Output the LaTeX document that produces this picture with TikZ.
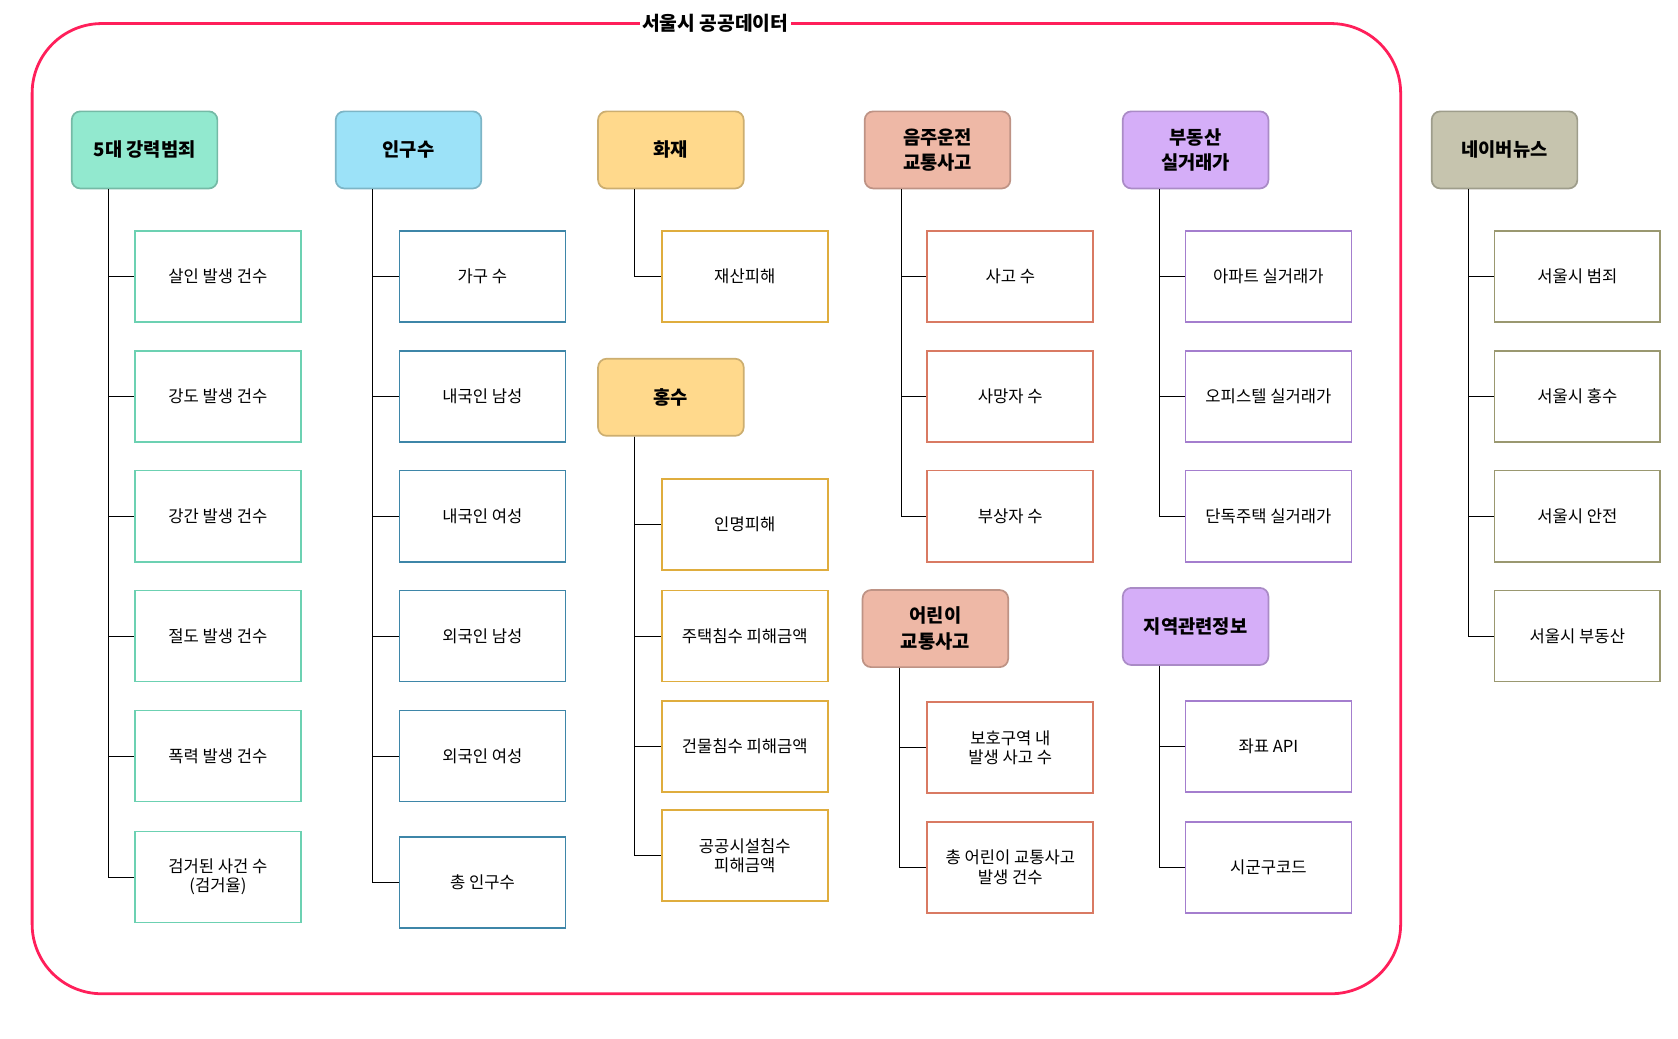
\documentclass[tikz,border=0pt]{standalone}
\usepackage{fontspec}
\setmainfont{Noto Sans CJK KR}
\begin{document}
\begin{tikzpicture}[x=1pt,y=-1pt,
  hdr/.style={draw=#1!80!black, fill=#1, line width=1.6pt, rounded corners=8pt,
    minimum width=136pt, minimum height=72pt, inner sep=0pt, align=center,
    font=\fontsize{17.5}{24}\selectfont\bfseries},
  leaf/.style={draw=#1, fill=white, line width=1.6pt,
    minimum width=155pt, minimum height=85pt, inner sep=0pt, align=center,
    font=\fontsize{15.5}{18}\selectfont},
  conn/.style={draw=black, line width=0.9pt}]
\definecolor{mintF}{HTML}{92E9CF}\definecolor{mintS}{HTML}{6CD1B2}
\definecolor{blueF}{HTML}{9CE2F8}\definecolor{blueS}{HTML}{3E86A8}
\definecolor{yelF}{HTML}{FFD98C}\definecolor{yelS}{HTML}{DFAD3E}
\definecolor{salF}{HTML}{EEB8A6}\definecolor{salS}{HTML}{D97A63}
\definecolor{purF}{HTML}{D5AEF8}\definecolor{purS}{HTML}{A47ECE}
\definecolor{olvF}{HTML}{C6C4AE}\definecolor{olvS}{HTML}{9A9870}
\definecolor{frameC}{HTML}{FF1F5A}
\useasboundingbox (0,0) rectangle (1567,970);
% frame
\draw[frameC, line width=2.6pt, rounded corners=65pt] (30,22) rectangle (1308,928);
\node[fill=white, inner sep=2pt, font=\fontsize{18}{22}\selectfont\bfseries] (title) at (668,22) {서울시 공공데이터};
% headers
\node[hdr=mintF] (h1) at (135,140) {5대 강력범죄};
\node[hdr=blueF] (h2) at (381.5,140) {인구수};
\node[hdr=yelF] (h3) at (626.5,140) {화재};
\node[hdr=salF] (h4) at (875.5,140) {음주운전\\교통사고};
\node[hdr=purF] (h5) at (1116.5,140) {부동산\\실거래가};
\node[hdr=olvF] (h6) at (1405,140) {네이버뉴스};
\node[hdr=yelF] (h7) at (626.5,371) {홍수};
\node[hdr=salF] (h8) at (873.5,587) {어린이\\교통사고};
\node[hdr=purF] (h9) at (1116.5,585) {지역관련정보};
% column 1
\node[leaf=mintS] (a1) at (203.5,258) {살인 발생 건수};
\node[leaf=mintS] (a2) at (203.5,370) {강도 발생 건수};
\node[leaf=mintS] (a3) at (203.5,482) {강간 발생 건수};
\node[leaf=mintS] (a4) at (203.5,594) {절도 발생 건수};
\node[leaf=mintS] (a5) at (203.5,706) {폭력 발생 건수};
\node[leaf=mintS] (a6) at (203.5,819) {검거된 사건 수\\(검거율)};
% column 2
\node[leaf=blueS] (b1) at (450.5,258) {가구 수};
\node[leaf=blueS] (b2) at (450.5,370) {내국인 남성};
\node[leaf=blueS] (b3) at (450.5,482) {내국인 여성};
\node[leaf=blueS] (b4) at (450.5,594) {외국인 남성};
\node[leaf=blueS] (b5) at (450.5,706) {외국인 여성};
\node[leaf=blueS] (b6) at (450.5,824) {총 인구수};
% column 3
\node[leaf=yelS] (c1) at (695.5,258) {재산피해};
\node[leaf=yelS] (d1) at (695.5,490) {인명피해};
\node[leaf=yelS] (d2) at (695.5,594) {주택침수 피해금액};
\node[leaf=yelS] (d3) at (695.5,697) {건물침수 피해금액};
\node[leaf=yelS] (d4) at (695.5,799) {공공시설침수\\피해금액};
% column 4
\node[leaf=salS] (e1) at (943.5,258) {사고 수};
\node[leaf=salS] (e2) at (943.5,370) {사망자 수};
\node[leaf=salS] (e3) at (943.5,482) {부상자 수};
\node[leaf=salS] (f1) at (943.5,698) {보호구역 내\\발생 사고 수};
\node[leaf=salS] (f2) at (943.5,810) {총 어린이 교통사고\\발생 건수};
% column 5
\node[leaf=purS] (g1) at (1184.5,258) {아파트 실거래가};
\node[leaf=purS] (g2) at (1184.5,370) {오피스텔 실거래가};
\node[leaf=purS] (g3) at (1184.5,482) {단독주택 실거래가};
\node[leaf=purS] (k1) at (1184.5,697) {좌표 API};
\node[leaf=purS] (k2) at (1184.5,810) {시군구코드};
% column 6
\node[leaf=olvS] (n1) at (1473,258) {서울시 범죄};
\node[leaf=olvS] (n2) at (1473,370) {서울시 홍수};
\node[leaf=olvS] (n3) at (1473,482) {서울시 안전};
\node[leaf=olvS] (n4) at (1473,594) {서울시 부동산};
% connectors
\foreach \h/\kids in {h1/{a1,a2,a3,a4,a5,a6}, h2/{b1,b2,b3,b4,b5,b6}, h3/{c1},
  h7/{d1,d2,d3,d4}, h4/{e1,e2,e3}, h8/{f1,f2}, h5/{g1,g2,g3}, h9/{k1,k2}, h6/{n1,n2,n3,n4}}
  \foreach \k in \kids
    \draw[conn] ([xshift=35pt]\h.south west) |- (\k.west);
\end{tikzpicture}
\end{document}
